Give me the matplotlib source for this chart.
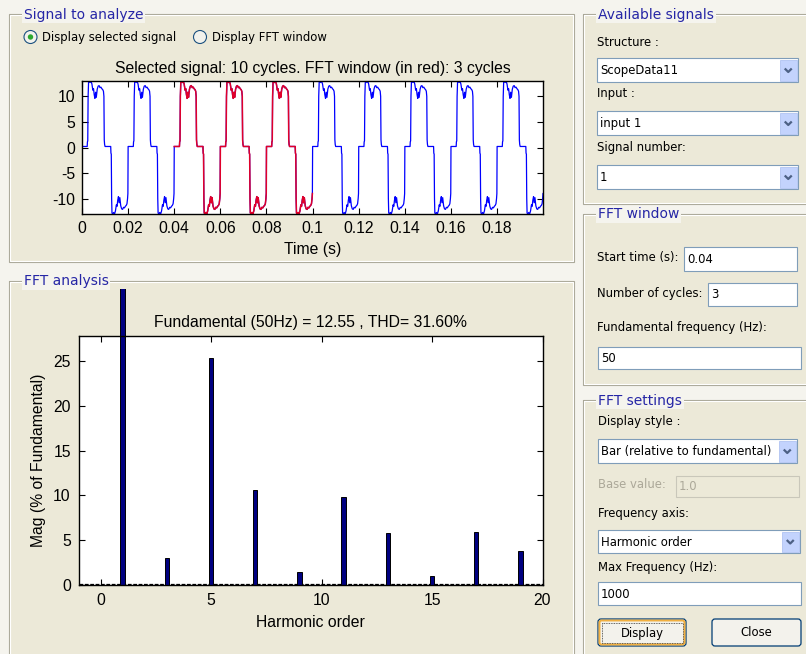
import numpy as np
import matplotlib
matplotlib.use('Agg')
import matplotlib.pyplot as plt
from matplotlib.patches import Rectangle, Circle, FancyBboxPatch
from matplotlib.transforms import Bbox, TransformedBbox

plt.rcParams['font.family'] = ['Liberation Sans', 'DejaVu Sans']
plt.rcParams['axes.unicode_minus'] = False

# ---------------- data ----------------
# one period (20 ms) of the analysed signal, breakpoints (ms, value)
cycle_t_ms = [0.0, 2.25, 2.35, 2.5, 2.65, 2.85, 3.1, 3.5, 3.9, 4.3, 4.7, 5.0, 5.3, 5.6,
              5.9, 6.2, 6.6, 7.0, 7.4, 7.8, 8.2, 8.6, 9.0, 9.3, 9.5, 9.65, 9.8,
              10.0, 12.45, 12.55, 12.7, 12.85, 13.0, 13.3, 13.7, 14.1, 14.5, 14.9, 15.2, 15.5, 15.8,
              16.1, 16.4, 16.8, 17.2, 17.6, 18.0, 18.4, 18.8, 19.2, 19.5, 19.75, 19.9]
cycle_val = [0.2, 0.2, 1.1, 1.3, 10.0, 12.8, 13.0, 12.7, 13.0, 12.4, 11.2, 11.5, 10.3, 9.6,
             10.8, 9.8, 11.4, 12.0, 12.1, 11.7, 11.8, 11.5, 11.3, 11.0, 10.0, 1.5, 0.6,
             0.2, 0.2, -1.1, -1.3, -10.0, -12.8, -13.0, -12.7, -13.0, -12.4, -11.2, -11.5, -10.3, -9.6,
             -10.8, -9.8, -11.4, -12.0, -12.1, -11.7, -11.8, -11.5, -11.3, -11.0, -10.0, -9.0]
period_ms = 20.0
n_cycles = 10
fft_start_ms = 40.0
fft_cycles = 3

harmonic_order = [1, 3, 5, 7, 9, 11, 13, 15, 17, 19]
harmonic_mag = [100.0, 3.0, 25.3, 10.6, 1.4, 9.8, 5.8, 1.0, 5.9, 3.8]

time_ticks = [0, 0.02, 0.04, 0.06, 0.08, 0.1, 0.12, 0.14, 0.16, 0.18]
time_labels = ['0', '0.02', '0.04', '0.06', '0.08', '0.1', '0.12', '0.14', '0.16', '0.18']
sig_yticks = [-10, -5, 0, 5, 10]
fft_xticks = [0, 5, 10, 15, 20]
fft_yticks = [0, 5, 10, 15, 20, 25]

# ---------------- figure / gui canvas ----------------
W, H = 806, 654
BG = '#F5F4EE'
PANEL = '#ECE9D8'
BLUE_T = '#2626A6'
GUI_FONT = 'DejaVu Sans'
GUI_SIZE = 8.4
AX_SIZE = 11.3

fig = plt.figure(figsize=(W / 100, H / 100), dpi=100, facecolor=BG)
gui = fig.add_axes([0, 0, 1, 1], zorder=0)
gui.set_xlim(0, W)
gui.set_ylim(H, 0)
gui.axis('off')


def rect(l, t, r, b):
    return [l / W, 1 - b / H, (r - l) / W, (b - t) / H]


def panel(x0, y0, x1, y1, title):
    gui.add_patch(Rectangle((x0, y0), x1 - x0, y1 - y0, fc=PANEL, ec='none'))
    gui.add_patch(Rectangle((x0, y0), x1 - x0, y1 - y0, fill=False, ec='#A9A797', lw=0.8))
    gui.add_patch(Rectangle((x0 + 1, y0 + 1), x1 - x0 - 2, y1 - y0 - 2, fill=False, ec='white', lw=0.8))
    gui.text(x0 + 15, y0 + 1, title, color=BLUE_T, fontsize=10, family=GUI_FONT,
             ha='left', va='center', bbox=dict(fc=BG, ec='none', pad=1.2))


def label(x, y, s, color='black'):
    gui.text(x, y, s, fontsize=GUI_SIZE, family=GUI_FONT, color=color, ha='left', va='center')


def edit(x0, y0, x1, y1, s, disabled=False):
    fc = PANEL if disabled else 'white'
    ec = '#C9C7BA' if disabled else '#7F9DB9'
    gui.add_patch(Rectangle((x0, y0), x1 - x0, y1 - y0, fc=fc, ec=ec, lw=0.8))
    gui.text(x0 + 3, (y0 + y1) / 2 + 0.5, s, fontsize=GUI_SIZE, family=GUI_FONT,
             color='#ACA899' if disabled else 'black', ha='left', va='center')


def popup(x0, y0, x1, y1, s):
    gui.add_patch(Rectangle((x0, y0), x1 - x0, y1 - y0, fc='white', ec='#7F9DB9', lw=0.8))
    gui.add_patch(Rectangle((x1 - 18, y0 + 1.5), 16.5, y1 - y0 - 3, fc='#C3D3FD', ec='#B1C4F2', lw=0.6))
    cx, cy = x1 - 9.75, (y0 + y1) / 2
    gui.plot([cx - 3.5, cx, cx + 3.5], [cy - 1.5, cy + 2, cy - 1.5], color='#4D6185', lw=1.6,
             solid_capstyle='butt')
    gui.text(x0 + 3, cy + 0.5, s, fontsize=GUI_SIZE, family=GUI_FONT, ha='left', va='center')


def button(x0, y0, x1, y1, s, focused=False):
    gui.add_patch(FancyBboxPatch((x0, y0), x1 - x0, y1 - y0, boxstyle='round,pad=0,rounding_size=3',
                                 fc='#F3F2EC', ec='#003C74', lw=0.9))
    if focused:
        gui.add_patch(FancyBboxPatch((x0 + 1.5, y0 + 1.5), x1 - x0 - 3, y1 - y0 - 3,
                                     boxstyle='round,pad=0,rounding_size=2', fill=False,
                                     ec='#F2B040', lw=1.4))
        gui.add_patch(Rectangle((x0 + 3.5, y0 + 3.5), x1 - x0 - 7, y1 - y0 - 7, fill=False,
                                ec='#333333', lw=0.6, ls=(0, (1, 1))))
    gui.text((x0 + x1) / 2, (y0 + y1) / 2 + 0.5, s, fontsize=GUI_SIZE, family=GUI_FONT,
             ha='center', va='center')


def radio(cx, cy, s, selected=False):
    gui.add_patch(Circle((cx, cy), 6.5, fc='#F2F2EC', ec='#1C5180', lw=0.8))
    if selected:
        gui.add_patch(Circle((cx, cy), 2.7, fc='#2DA82D', ec='none'))
    label(cx + 11.5, cy, s)


# panels
panel(8.5, 13.5, 573.5, 261.5, 'Signal to analyze')
panel(8.5, 280.5, 573.5, 700, 'FFT analysis')
panel(583, 13.5, 830, 203.5, 'Available signals')
panel(583, 213.5, 830, 385, 'FFT window')
panel(583, 399.5, 830, 700, 'FFT settings')

radio(30.5, 37, 'Display selected signal', selected=True)
radio(200, 37, 'Display FFT window')

label(597, 42, 'Structure :')
popup(597, 58, 798, 82, 'ScopeData11')
label(597, 93, 'Input :')
popup(597, 111, 798, 135, 'input 1')
label(597, 147, 'Signal number:')
popup(597, 165, 798, 189, '1')

label(597, 258, 'Start time (s):')
edit(684, 247, 797, 271, '0.04')
label(597, 294, 'Number of cycles:')
edit(708, 283, 797, 306, '3')
label(597, 327, 'Fundamental frequency (Hz):')
edit(598, 347, 801, 369, '50')

label(598, 422, 'Display style :')
popup(598, 439, 797, 463, 'Bar (relative to fundamental)')
label(598, 485, 'Base value:', color='#ACA899')
edit(676, 476, 799, 497, '1.0', disabled=True)
label(598, 514, 'Frequency axis:')
popup(598, 530, 800, 553, 'Harmonic order')
label(598, 567, 'Max Frequency (Hz):')
edit(598, 582, 801, 605, '1000')
button(598, 619, 686, 646, 'Display', focused=True)
button(712, 619, 801, 646, 'Close')

# ---------------- signal plot ----------------
t_all = np.concatenate([np.array(cycle_t_ms) + k * period_ms for k in range(n_cycles)])
v_all = np.tile(cycle_val, n_cycles)
win_end = fft_start_ms + fft_cycles * period_ms
in_win = (t_all >= fft_start_ms) & (t_all < win_end)

ax1 = fig.add_axes(rect(82, 81, 543, 214), zorder=2)
ax1.plot(t_all / 1000, v_all, color='#0000FF', lw=0.9)
ax1.plot(t_all[in_win] / 1000, v_all[in_win], color='#E0002A', lw=1.1)
ax1.set_xlim(0, 0.1999)
ax1.set_ylim(v_all.min(), v_all.max())
ax1.set_xticks(time_ticks)
ax1.set_xticklabels(time_labels)
ax1.set_yticks(sig_yticks)
ax1.tick_params(direction='in', top=True, right=True, length=4, width=0.8, labelsize=AX_SIZE, pad=5)
ax1.set_title('Selected signal: 10 cycles. FFT window (in red): 3 cycles', fontsize=AX_SIZE, pad=6)
ax1.set_xlabel('Time (s)', fontsize=AX_SIZE, labelpad=4.5)
for s in ax1.spines.values():
    s.set_linewidth(1.0)

# ---------------- FFT bar plot ----------------
ax2 = fig.add_axes(rect(78.5, 336, 542.5, 585), zorder=2)
ax2.axhline(0.12, color='black', lw=0.9, ls=(0, (3, 1.3)), zorder=1)
bars = ax2.bar(harmonic_order, harmonic_mag, width=0.2, color='#000080', edgecolor='black',
               lw=0.7, zorder=2)
clip_box = TransformedBbox(Bbox.from_extents(0, 0, 1, 1 - 289 / H), fig.transFigure)
for p in bars:
    p.set_clip_path(None)
    p.set_clip_box(clip_box)
ax2.set_xlim(-1, 20)
ax2.set_ylim(0, 27.8)
ax2.set_xticks(fft_xticks)
ax2.set_yticks(fft_yticks)
ax2.tick_params(direction='in', top=True, right=True, length=4, width=0.8, labelsize=AX_SIZE, pad=5.5)
ax2.set_title('Fundamental (50Hz) = 12.55 , THD= 31.60%', fontsize=AX_SIZE, pad=6.5)
ax2.set_xlabel('Harmonic order', fontsize=AX_SIZE, labelpad=5.5)
ax2.set_ylabel('Mag (% of Fundamental)', fontsize=AX_SIZE, labelpad=5)
for s in ax2.spines.values():
    s.set_linewidth(1.0)

fig.savefig('out.png', dpi=100, facecolor=BG)
